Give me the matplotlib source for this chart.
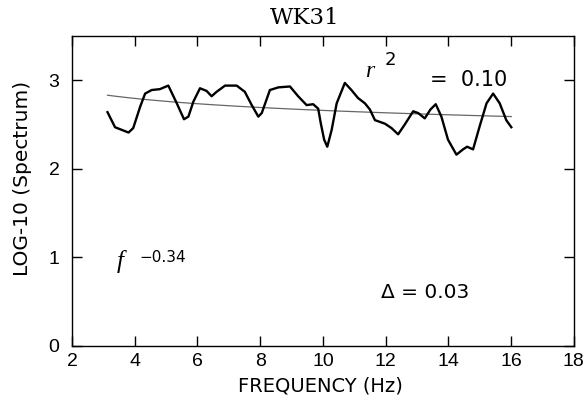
import numpy as np
import matplotlib.pyplot as plt

# Спектр (log10)
freq = [3.13, 3.37, 3.80, 3.95, 4.17, 4.33, 4.54, 4.80, 5.07, 5.34, 5.57, 5.71,
        5.87, 6.08, 6.29, 6.45, 6.61, 6.88, 7.25, 7.51, 7.73, 7.94, 8.05, 8.31,
        8.58, 8.95, 9.21, 9.48, 9.69, 9.85, 9.93, 10.04, 10.14, 10.28, 10.44,
        10.70, 10.91, 11.12, 11.34, 11.50, 11.66, 11.98, 12.19, 12.40, 12.61,
        12.88, 13.04, 13.25, 13.43, 13.60, 13.78, 13.99, 14.26, 14.47, 14.60,
        14.79, 15.00, 15.22, 15.43, 15.64, 15.85, 16.01]
log_spec = [2.64, 2.47, 2.41, 2.46, 2.70, 2.85, 2.89, 2.90, 2.94, 2.74, 2.56, 2.59,
            2.76, 2.91, 2.88, 2.82, 2.87, 2.94, 2.94, 2.87, 2.72, 2.59, 2.63, 2.89,
            2.92, 2.93, 2.82, 2.72, 2.73, 2.68, 2.52, 2.33, 2.25, 2.44, 2.74,
            2.97, 2.89, 2.80, 2.74, 2.67, 2.55, 2.51, 2.46, 2.39, 2.50,
            2.65, 2.63, 2.57, 2.67, 2.73, 2.59, 2.33, 2.16, 2.22, 2.25,
            2.22, 2.48, 2.74, 2.85, 2.74, 2.55, 2.47]

# Степенная аппроксимация: log10(S) = a + b*log10(f)
fit_a = 3.0
fit_b = -0.34
r2 = 0.10
delta = 0.03

freq = np.array(freq)
log_spec = np.array(log_spec)
fit_y = fit_a + fit_b * np.log10(freq)

plt.rcParams['font.family'] = 'DejaVu Sans'

fig = plt.figure(figsize=(5.86, 4.0), dpi=100)
ax = fig.add_axes([0.123, 0.135, 0.856, 0.775])

ax.plot(freq, fit_y, color='#666666', lw=0.9)
ax.plot(freq, log_spec, color='black', lw=1.7)

ax.set_xlim(2, 18)
ax.set_ylim(0, 3.5)
ax.set_xticks(np.arange(2, 19, 2))
ax.set_yticks([0, 1, 2, 3])
ax.tick_params(direction='in', length=7, width=1, top=True, right=True)
ax.tick_params(axis='x', pad=5)
ax.tick_params(axis='y', pad=9)
for lab in ax.get_xticklabels() + ax.get_yticklabels():
    lab.set_family('Liberation Sans')
    lab.set_fontsize(14)
for s in ax.spines.values():
    s.set_linewidth(1)

ax.set_xlabel('FREQUENCY (Hz)', fontsize=14)
ax.set_ylabel('LOG-10 (Spectrum)', fontsize=14.5)
ax.xaxis.set_label_coords(0.496, -0.10)
ax.yaxis.set_label_coords(-0.08, 0.542)
ax.set_title('WK31', fontsize=16.5, family='DejaVu Serif', x=0.464, pad=9)

# подписи внутри графика
ax.text(11.34, 3.04, 'r', fontsize=17, family='Liberation Serif', style='italic',
        ha='left', va='baseline')
ax.text(11.98, 3.17, '2', fontsize=13, ha='left', va='baseline')
ax.text(13.41, 2.93, f'=  {r2:.2f}', fontsize=15, ha='left', va='baseline')
ax.text(3.43, 0.88, 'f', fontsize=18, family='Liberation Serif', style='italic',
        ha='left', va='baseline')
ax.text(4.15, 0.95, f'\u2212{abs(fit_b):.2f}', fontsize=11, ha='left', va='baseline')
ax.text(11.85, 0.546, f'Δ = {delta:.2f}', fontsize=14.5, ha='left', va='baseline')

fig.savefig('out.png', dpi=100)
